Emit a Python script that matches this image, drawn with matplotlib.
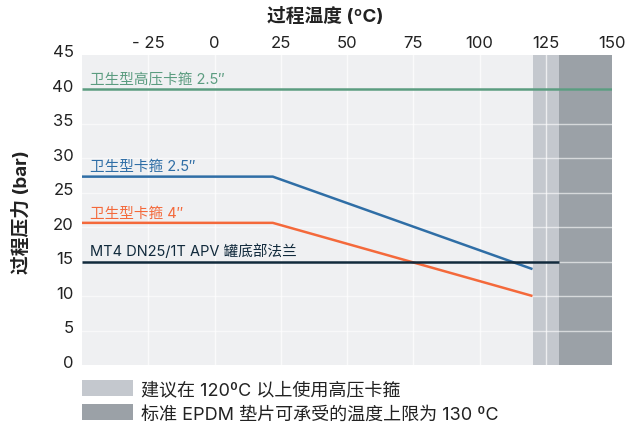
import matplotlib
matplotlib.use("Agg")
from matplotlib import pyplot as plt
from matplotlib.patches import Patch
from matplotlib.transforms import ScaledTranslation

plt.rcParams['font.family'] = ['Inter', 'Noto Sans CJK SC', 'DejaVu Sans']

# data
temp_ticks = [-25, 0, 25, 50, 75, 100, 125, 150]
temp_labels = ["- 25", "0", "25", "50", "75", "100", "125", "150"]
press_ticks = [0, 5, 10, 15, 20, 25, 30, 35, 40, 45]

hp_temp = [-50, 150]
hp_press = [40, 40]

clamp_temp = [-50, 22, 120]
clamp25_press = [27.3, 27.3, 13.9]
clamp4_press = [20.6, 20.6, 10.0]

flange_temp = [-50, 130]
flange_press = [15, 15]

hp_band = (120, 130)
epdm_band = (130, 150)

series_names = ["卫生型高压卡箍 2.5″", "卫生型卡箍 2.5″", "卫生型卡箍 4″", "MT4 DN25/1T APV 罐底部法兰"]
legend_names = ["建议在 120ºC 以上使用高压卡箍", "标准 EPDM 垫片可承受的温度上限为 130 ºC"]

c_green = "#5b9c80"
c_blue = "#2f6ea6"
c_orange = "#f4693b"
c_navy = "#112a3c"
c_band1 = "#c4c8ce"
c_band2 = "#9ba1a7"
c_text = "#222222"

fig = plt.figure(figsize=(6.35, 4.27), dpi=100)
ax = fig.add_axes([82 / 635, 1 - 366 / 427, 530 / 635, 310.5 / 427])
ax.set_facecolor("#eff0f2")

# bands
ax.axvspan(*hp_band, color=c_band1, zorder=1, lw=0)
ax.axvspan(*epdm_band, color=c_band2, zorder=1, lw=0)

# grid
for t in temp_ticks[:-1]:
    ax.axvline(t, color="white", lw=1, alpha=0.7, zorder=2)
for p in press_ticks[1:-1]:
    ax.axhline(p, color="white", lw=1, alpha=0.6, zorder=2)

# lines
lw = 1.8
ax.plot(hp_temp, hp_press, color=c_green, lw=lw, zorder=3, solid_capstyle="butt")
ax.plot(clamp_temp, clamp25_press, color=c_blue, lw=lw, zorder=3, solid_capstyle="butt")
ax.plot(clamp_temp, clamp4_press, color=c_orange, lw=lw, zorder=3, solid_capstyle="butt")
ax.plot(flange_temp, flange_press, color=c_navy, lw=lw, zorder=4, solid_capstyle="butt")

# series labels
lx = -47
ax.text(lx, hp_press[0] + 0.5, series_names[0], color=c_green, fontsize=10.5, va="bottom")
ax.text(lx, clamp25_press[0] + 0.5, series_names[1], color=c_blue, fontsize=10.5, va="bottom")
ax.text(lx, clamp4_press[0] + 0.5, series_names[2], color=c_orange, fontsize=10.5, va="bottom")
ax.text(lx, flange_press[0] + 0.5, series_names[3], color=c_navy, fontsize=10.5, va="bottom")

# axes
ax.set_xlim(-50, 150)
ax.set_ylim(0, 45)
ax.xaxis.tick_top()
ax.set_xticks(temp_ticks)
ax.set_xticklabels(temp_labels)
ax.set_yticks(press_ticks)
ax.tick_params(axis="both", length=0, labelsize=12, colors=c_text)
ax.tick_params(axis="x", pad=3)
ax.tick_params(axis="y", pad=6)
offset = ScaledTranslation(0, 3 / 72, fig.dpi_scale_trans)
for lab in ax.get_yticklabels():
    lab.set_transform(lab.get_transform() + offset)
for s in ax.spines.values():
    s.set_visible(False)

fig.text(325 / 635, 1 - 17 / 427, "过程温度 (ºC)", ha="center", va="center",
         fontsize=13.5, fontweight="bold", color=c_text)
fig.text(22 / 635, 1 - 212 / 427, "过程压力 (bar)", ha="center", va="center",
         rotation=90, fontsize=13.5, fontweight="bold", color=c_text)

# legend
handles = [Patch(facecolor=c_band1, edgecolor="none"), Patch(facecolor=c_band2, edgecolor="none")]
leg = fig.legend(handles, legend_names, loc="upper left",
                 bbox_to_anchor=(82 / 635, 1 - 381 / 427), frameon=False,
                 fontsize=13, handlelength=2.8, handleheight=0.95,
                 handletextpad=0.45, labelspacing=0.35, borderpad=0, borderaxespad=0)
for t in leg.get_texts():
    t.set_color(c_text)

fig.savefig("out.png", dpi=100)
